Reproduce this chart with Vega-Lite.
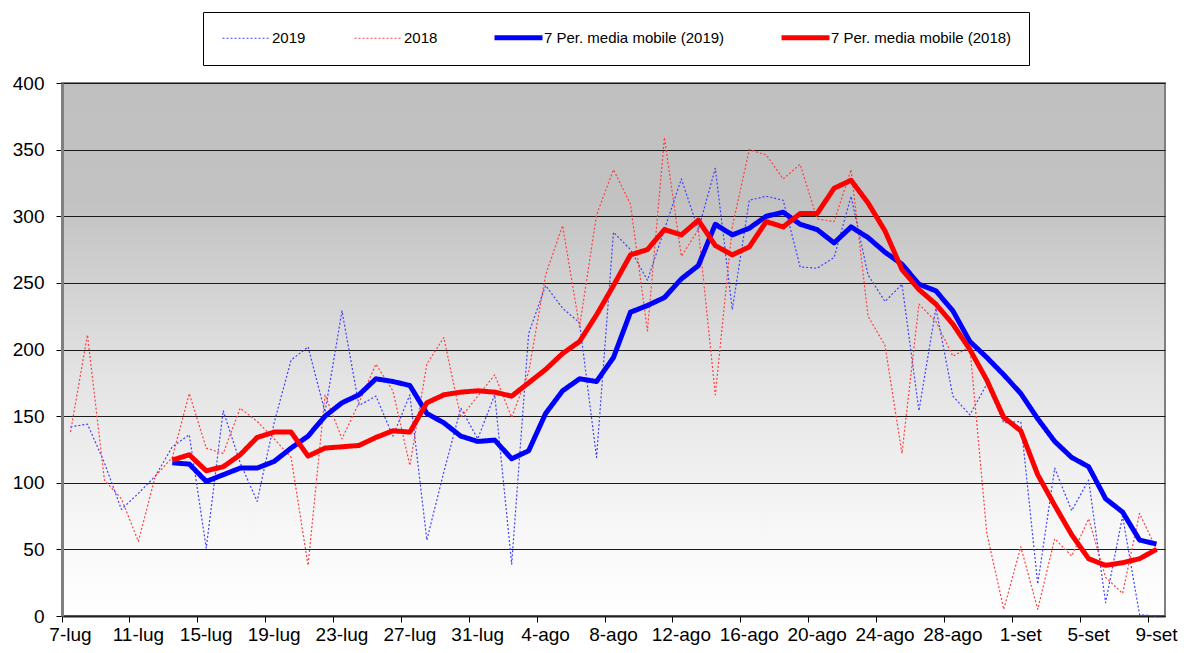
{
  "$schema": "https://vega.github.io/schema/vega-lite/v6.json",
  "width": 1103,
  "height": 533,
  "autosize": {"type": "none"},
  "padding": {"left": 62, "top": 83, "right": 19, "bottom": 37},
  "background": "#ffffff",
  "config": {
    "font": "Liberation Sans",
    "view": {
      "stroke": "#808080",
      "strokeWidth": 2,
      "fill": {
        "gradient": "linear", "x1": 0, "y1": 0, "x2": 0, "y2": 1,
        "stops": [
          {"offset": 0, "color": "#c0c0c0"},
          {"offset": 0.22, "color": "#c2c2c2"},
          {"offset": 0.4, "color": "#d4d4d4"},
          {"offset": 0.55, "color": "#e3e3e3"},
          {"offset": 0.7, "color": "#eeeeee"},
          {"offset": 0.85, "color": "#f8f8f8"},
          {"offset": 1, "color": "#ffffff"}
        ]
      }
    },
    "legend": {
      "orient": "none",
      "legendX": 141,
      "legendY": -71,
      "direction": "horizontal",
      "columns": 4,
      "columnPadding": 46,
      "symbolType": "M-4,0H4",
      "symbolSize": 144,
      "symbolOffset": 18,
      "labelOffset": 17,
      "labelLimit": 400,
      "labelFontSize": 15,
      "labelColor": "#000000",
      "padding": 17,
      "strokeColor": "#000000",
      "fillColor": "#ffffff"
    }
  },
  "data": {
    "values": [
      {"d": "7-lug", "s": "2019", "v": 142}, {"d": "8-lug", "s": "2019", "v": 144}, {"d": "9-lug", "s": "2019", "v": 115}, {"d": "10-lug", "s": "2019", "v": 80}, {"d": "11-lug", "s": "2019", "v": 92}, {"d": "12-lug", "s": "2019", "v": 105}, {"d": "13-lug", "s": "2019", "v": 127}, {"d": "14-lug", "s": "2019", "v": 136}, {"d": "15-lug", "s": "2019", "v": 51}, {"d": "16-lug", "s": "2019", "v": 154}, {"d": "17-lug", "s": "2019", "v": 115}, {"d": "18-lug", "s": "2019", "v": 86}, {"d": "19-lug", "s": "2019", "v": 145}, {"d": "20-lug", "s": "2019", "v": 192}, {"d": "21-lug", "s": "2019", "v": 202}, {"d": "22-lug", "s": "2019", "v": 153}, {"d": "23-lug", "s": "2019", "v": 229}, {"d": "24-lug", "s": "2019", "v": 158}, {"d": "25-lug", "s": "2019", "v": 165}, {"d": "26-lug", "s": "2019", "v": 135}, {"d": "27-lug", "s": "2019", "v": 166}, {"d": "28-lug", "s": "2019", "v": 57}, {"d": "29-lug", "s": "2019", "v": 108}, {"d": "30-lug", "s": "2019", "v": 156}, {"d": "31-lug", "s": "2019", "v": 133},
      {"d": "1-ago", "s": "2019", "v": 166}, {"d": "2-ago", "s": "2019", "v": 39}, {"d": "3-ago", "s": "2019", "v": 212}, {"d": "4-ago", "s": "2019", "v": 248}, {"d": "5-ago", "s": "2019", "v": 231}, {"d": "6-ago", "s": "2019", "v": 220}, {"d": "7-ago", "s": "2019", "v": 119}, {"d": "8-ago", "s": "2019", "v": 288}, {"d": "9-ago", "s": "2019", "v": 275}, {"d": "10-ago", "s": "2019", "v": 252}, {"d": "11-ago", "s": "2019", "v": 290}, {"d": "12-ago", "s": "2019", "v": 328}, {"d": "13-ago", "s": "2019", "v": 290}, {"d": "14-ago", "s": "2019", "v": 336}, {"d": "15-ago", "s": "2019", "v": 230}, {"d": "16-ago", "s": "2019", "v": 312}, {"d": "17-ago", "s": "2019", "v": 315}, {"d": "18-ago", "s": "2019", "v": 312}, {"d": "19-ago", "s": "2019", "v": 262}, {"d": "20-ago", "s": "2019", "v": 261}, {"d": "21-ago", "s": "2019", "v": 269}, {"d": "22-ago", "s": "2019", "v": 315}, {"d": "23-ago", "s": "2019", "v": 256}, {"d": "24-ago", "s": "2019", "v": 236}, {"d": "25-ago", "s": "2019", "v": 249}, {"d": "26-ago", "s": "2019", "v": 154}, {"d": "27-ago", "s": "2019", "v": 231}, {"d": "28-ago", "s": "2019", "v": 165}, {"d": "29-ago", "s": "2019", "v": 151}, {"d": "30-ago", "s": "2019", "v": 174}, {"d": "31-ago", "s": "2019", "v": 145},
      {"d": "1-set", "s": "2019", "v": 146}, {"d": "2-set", "s": "2019", "v": 24}, {"d": "3-set", "s": "2019", "v": 111}, {"d": "4-set", "s": "2019", "v": 79}, {"d": "5-set", "s": "2019", "v": 102}, {"d": "6-set", "s": "2019", "v": 10}, {"d": "7-set", "s": "2019", "v": 75}, {"d": "8-set", "s": "2019", "v": 1}, {"d": "9-set", "s": "2019", "v": 0},

      {"d": "7-lug", "s": "2018", "v": 138}, {"d": "8-lug", "s": "2018", "v": 211}, {"d": "9-lug", "s": "2018", "v": 102}, {"d": "10-lug", "s": "2018", "v": 88}, {"d": "11-lug", "s": "2018", "v": 56}, {"d": "12-lug", "s": "2018", "v": 105}, {"d": "13-lug", "s": "2018", "v": 119}, {"d": "14-lug", "s": "2018", "v": 167}, {"d": "15-lug", "s": "2018", "v": 126}, {"d": "16-lug", "s": "2018", "v": 122}, {"d": "17-lug", "s": "2018", "v": 156}, {"d": "18-lug", "s": "2018", "v": 146}, {"d": "19-lug", "s": "2018", "v": 133}, {"d": "20-lug", "s": "2018", "v": 119}, {"d": "21-lug", "s": "2018", "v": 38}, {"d": "22-lug", "s": "2018", "v": 166}, {"d": "23-lug", "s": "2018", "v": 133}, {"d": "24-lug", "s": "2018", "v": 160}, {"d": "25-lug", "s": "2018", "v": 189}, {"d": "26-lug", "s": "2018", "v": 169}, {"d": "27-lug", "s": "2018", "v": 113}, {"d": "28-lug", "s": "2018", "v": 189}, {"d": "29-lug", "s": "2018", "v": 209}, {"d": "30-lug", "s": "2018", "v": 149}, {"d": "31-lug", "s": "2018", "v": 165},
      {"d": "1-ago", "s": "2018", "v": 181}, {"d": "2-ago", "s": "2018", "v": 149}, {"d": "3-ago", "s": "2018", "v": 183}, {"d": "4-ago", "s": "2018", "v": 256}, {"d": "5-ago", "s": "2018", "v": 293}, {"d": "6-ago", "s": "2018", "v": 217}, {"d": "7-ago", "s": "2018", "v": 301}, {"d": "8-ago", "s": "2018", "v": 335}, {"d": "9-ago", "s": "2018", "v": 309}, {"d": "10-ago", "s": "2018", "v": 214}, {"d": "11-ago", "s": "2018", "v": 359}, {"d": "12-ago", "s": "2018", "v": 270}, {"d": "13-ago", "s": "2018", "v": 290}, {"d": "14-ago", "s": "2018", "v": 166}, {"d": "15-ago", "s": "2018", "v": 292}, {"d": "16-ago", "s": "2018", "v": 350}, {"d": "17-ago", "s": "2018", "v": 346}, {"d": "18-ago", "s": "2018", "v": 328}, {"d": "19-ago", "s": "2018", "v": 339}, {"d": "20-ago", "s": "2018", "v": 298}, {"d": "21-ago", "s": "2018", "v": 296}, {"d": "22-ago", "s": "2018", "v": 335}, {"d": "23-ago", "s": "2018", "v": 225}, {"d": "24-ago", "s": "2018", "v": 203}, {"d": "25-ago", "s": "2018", "v": 122}, {"d": "26-ago", "s": "2018", "v": 234}, {"d": "27-ago", "s": "2018", "v": 221}, {"d": "28-ago", "s": "2018", "v": 195}, {"d": "29-ago", "s": "2018", "v": 202}, {"d": "30-ago", "s": "2018", "v": 62}, {"d": "31-ago", "s": "2018", "v": 5},
      {"d": "1-set", "s": "2018", "v": 52}, {"d": "2-set", "s": "2018", "v": 5}, {"d": "3-set", "s": "2018", "v": 58}, {"d": "4-set", "s": "2018", "v": 45}, {"d": "5-set", "s": "2018", "v": 73}, {"d": "6-set", "s": "2018", "v": 29}, {"d": "7-set", "s": "2018", "v": 17}, {"d": "8-set", "s": "2018", "v": 77}, {"d": "9-set", "s": "2018", "v": 50},

      {"d": "13-lug", "s": "7 Per. media mobile (2019)", "v": 115}, {"d": "14-lug", "s": "7 Per. media mobile (2019)", "v": 114}, {"d": "15-lug", "s": "7 Per. media mobile (2019)", "v": 101}, {"d": "16-lug", "s": "7 Per. media mobile (2019)", "v": 106}, {"d": "17-lug", "s": "7 Per. media mobile (2019)", "v": 111}, {"d": "18-lug", "s": "7 Per. media mobile (2019)", "v": 111}, {"d": "19-lug", "s": "7 Per. media mobile (2019)", "v": 116}, {"d": "20-lug", "s": "7 Per. media mobile (2019)", "v": 126}, {"d": "21-lug", "s": "7 Per. media mobile (2019)", "v": 135}, {"d": "22-lug", "s": "7 Per. media mobile (2019)", "v": 150}, {"d": "23-lug", "s": "7 Per. media mobile (2019)", "v": 160}, {"d": "24-lug", "s": "7 Per. media mobile (2019)", "v": 166}, {"d": "25-lug", "s": "7 Per. media mobile (2019)", "v": 178}, {"d": "26-lug", "s": "7 Per. media mobile (2019)", "v": 176}, {"d": "27-lug", "s": "7 Per. media mobile (2019)", "v": 173}, {"d": "28-lug", "s": "7 Per. media mobile (2019)", "v": 152}, {"d": "29-lug", "s": "7 Per. media mobile (2019)", "v": 145}, {"d": "30-lug", "s": "7 Per. media mobile (2019)", "v": 135}, {"d": "31-lug", "s": "7 Per. media mobile (2019)", "v": 131},
      {"d": "1-ago", "s": "7 Per. media mobile (2019)", "v": 132}, {"d": "2-ago", "s": "7 Per. media mobile (2019)", "v": 118}, {"d": "3-ago", "s": "7 Per. media mobile (2019)", "v": 124}, {"d": "4-ago", "s": "7 Per. media mobile (2019)", "v": 152}, {"d": "5-ago", "s": "7 Per. media mobile (2019)", "v": 169}, {"d": "6-ago", "s": "7 Per. media mobile (2019)", "v": 178}, {"d": "7-ago", "s": "7 Per. media mobile (2019)", "v": 176}, {"d": "8-ago", "s": "7 Per. media mobile (2019)", "v": 194}, {"d": "9-ago", "s": "7 Per. media mobile (2019)", "v": 228}, {"d": "10-ago", "s": "7 Per. media mobile (2019)", "v": 233}, {"d": "11-ago", "s": "7 Per. media mobile (2019)", "v": 239}, {"d": "12-ago", "s": "7 Per. media mobile (2019)", "v": 253}, {"d": "13-ago", "s": "7 Per. media mobile (2019)", "v": 263}, {"d": "14-ago", "s": "7 Per. media mobile (2019)", "v": 294}, {"d": "15-ago", "s": "7 Per. media mobile (2019)", "v": 286}, {"d": "16-ago", "s": "7 Per. media mobile (2019)", "v": 291}, {"d": "17-ago", "s": "7 Per. media mobile (2019)", "v": 300}, {"d": "18-ago", "s": "7 Per. media mobile (2019)", "v": 303}, {"d": "19-ago", "s": "7 Per. media mobile (2019)", "v": 294}, {"d": "20-ago", "s": "7 Per. media mobile (2019)", "v": 290}, {"d": "21-ago", "s": "7 Per. media mobile (2019)", "v": 280}, {"d": "22-ago", "s": "7 Per. media mobile (2019)", "v": 292}, {"d": "23-ago", "s": "7 Per. media mobile (2019)", "v": 284}, {"d": "24-ago", "s": "7 Per. media mobile (2019)", "v": 273}, {"d": "25-ago", "s": "7 Per. media mobile (2019)", "v": 264}, {"d": "26-ago", "s": "7 Per. media mobile (2019)", "v": 249}, {"d": "27-ago", "s": "7 Per. media mobile (2019)", "v": 244}, {"d": "28-ago", "s": "7 Per. media mobile (2019)", "v": 229}, {"d": "29-ago", "s": "7 Per. media mobile (2019)", "v": 206}, {"d": "30-ago", "s": "7 Per. media mobile (2019)", "v": 194}, {"d": "31-ago", "s": "7 Per. media mobile (2019)", "v": 181},
      {"d": "1-set", "s": "7 Per. media mobile (2019)", "v": 167}, {"d": "2-set", "s": "7 Per. media mobile (2019)", "v": 148}, {"d": "3-set", "s": "7 Per. media mobile (2019)", "v": 131}, {"d": "4-set", "s": "7 Per. media mobile (2019)", "v": 119}, {"d": "5-set", "s": "7 Per. media mobile (2019)", "v": 112}, {"d": "6-set", "s": "7 Per. media mobile (2019)", "v": 88}, {"d": "7-set", "s": "7 Per. media mobile (2019)", "v": 78}, {"d": "8-set", "s": "7 Per. media mobile (2019)", "v": 57}, {"d": "9-set", "s": "7 Per. media mobile (2019)", "v": 54},

      {"d": "13-lug", "s": "7 Per. media mobile (2018)", "v": 117}, {"d": "14-lug", "s": "7 Per. media mobile (2018)", "v": 121}, {"d": "15-lug", "s": "7 Per. media mobile (2018)", "v": 109}, {"d": "16-lug", "s": "7 Per. media mobile (2018)", "v": 112}, {"d": "17-lug", "s": "7 Per. media mobile (2018)", "v": 121}, {"d": "18-lug", "s": "7 Per. media mobile (2018)", "v": 134}, {"d": "19-lug", "s": "7 Per. media mobile (2018)", "v": 138}, {"d": "20-lug", "s": "7 Per. media mobile (2018)", "v": 138}, {"d": "21-lug", "s": "7 Per. media mobile (2018)", "v": 120}, {"d": "22-lug", "s": "7 Per. media mobile (2018)", "v": 126}, {"d": "23-lug", "s": "7 Per. media mobile (2018)", "v": 127}, {"d": "24-lug", "s": "7 Per. media mobile (2018)", "v": 128}, {"d": "25-lug", "s": "7 Per. media mobile (2018)", "v": 134}, {"d": "26-lug", "s": "7 Per. media mobile (2018)", "v": 139}, {"d": "27-lug", "s": "7 Per. media mobile (2018)", "v": 138}, {"d": "28-lug", "s": "7 Per. media mobile (2018)", "v": 160}, {"d": "29-lug", "s": "7 Per. media mobile (2018)", "v": 166}, {"d": "30-lug", "s": "7 Per. media mobile (2018)", "v": 168}, {"d": "31-lug", "s": "7 Per. media mobile (2018)", "v": 169},
      {"d": "1-ago", "s": "7 Per. media mobile (2018)", "v": 168}, {"d": "2-ago", "s": "7 Per. media mobile (2018)", "v": 165}, {"d": "3-ago", "s": "7 Per. media mobile (2018)", "v": 175}, {"d": "4-ago", "s": "7 Per. media mobile (2018)", "v": 185}, {"d": "5-ago", "s": "7 Per. media mobile (2018)", "v": 197}, {"d": "6-ago", "s": "7 Per. media mobile (2018)", "v": 206}, {"d": "7-ago", "s": "7 Per. media mobile (2018)", "v": 226}, {"d": "8-ago", "s": "7 Per. media mobile (2018)", "v": 248}, {"d": "9-ago", "s": "7 Per. media mobile (2018)", "v": 271}, {"d": "10-ago", "s": "7 Per. media mobile (2018)", "v": 275}, {"d": "11-ago", "s": "7 Per. media mobile (2018)", "v": 290}, {"d": "12-ago", "s": "7 Per. media mobile (2018)", "v": 286}, {"d": "13-ago", "s": "7 Per. media mobile (2018)", "v": 297}, {"d": "14-ago", "s": "7 Per. media mobile (2018)", "v": 278}, {"d": "15-ago", "s": "7 Per. media mobile (2018)", "v": 271}, {"d": "16-ago", "s": "7 Per. media mobile (2018)", "v": 277}, {"d": "17-ago", "s": "7 Per. media mobile (2018)", "v": 296}, {"d": "18-ago", "s": "7 Per. media mobile (2018)", "v": 292}, {"d": "19-ago", "s": "7 Per. media mobile (2018)", "v": 302}, {"d": "20-ago", "s": "7 Per. media mobile (2018)", "v": 302}, {"d": "21-ago", "s": "7 Per. media mobile (2018)", "v": 321}, {"d": "22-ago", "s": "7 Per. media mobile (2018)", "v": 327}, {"d": "23-ago", "s": "7 Per. media mobile (2018)", "v": 310}, {"d": "24-ago", "s": "7 Per. media mobile (2018)", "v": 289}, {"d": "25-ago", "s": "7 Per. media mobile (2018)", "v": 260}, {"d": "26-ago", "s": "7 Per. media mobile (2018)", "v": 245}, {"d": "27-ago", "s": "7 Per. media mobile (2018)", "v": 234}, {"d": "28-ago", "s": "7 Per. media mobile (2018)", "v": 219}, {"d": "29-ago", "s": "7 Per. media mobile (2018)", "v": 200}, {"d": "30-ago", "s": "7 Per. media mobile (2018)", "v": 177}, {"d": "31-ago", "s": "7 Per. media mobile (2018)", "v": 149},
      {"d": "1-set", "s": "7 Per. media mobile (2018)", "v": 139}, {"d": "2-set", "s": "7 Per. media mobile (2018)", "v": 106}, {"d": "3-set", "s": "7 Per. media mobile (2018)", "v": 83}, {"d": "4-set", "s": "7 Per. media mobile (2018)", "v": 61}, {"d": "5-set", "s": "7 Per. media mobile (2018)", "v": 43}, {"d": "6-set", "s": "7 Per. media mobile (2018)", "v": 38}, {"d": "7-set", "s": "7 Per. media mobile (2018)", "v": 40}, {"d": "8-set", "s": "7 Per. media mobile (2018)", "v": 43}, {"d": "9-set", "s": "7 Per. media mobile (2018)", "v": 50}
    ]
  },
  "mark": {"type": "line", "strokeJoin": "round"},
  "encoding": {
    "x": {
      "field": "d",
      "type": "ordinal",
      "title": null,
      "sort": ["7-lug","8-lug","9-lug","10-lug","11-lug","12-lug","13-lug","14-lug","15-lug","16-lug","17-lug","18-lug","19-lug","20-lug","21-lug","22-lug","23-lug","24-lug","25-lug","26-lug","27-lug","28-lug","29-lug","30-lug","31-lug","1-ago","2-ago","3-ago","4-ago","5-ago","6-ago","7-ago","8-ago","9-ago","10-ago","11-ago","12-ago","13-ago","14-ago","15-ago","16-ago","17-ago","18-ago","19-ago","20-ago","21-ago","22-ago","23-ago","24-ago","25-ago","26-ago","27-ago","28-ago","29-ago","30-ago","31-ago","1-set","2-set","3-set","4-set","5-set","6-set","7-set","8-set","9-set"],
      "scale": {"type": "band", "paddingInner": 0, "paddingOuter": 0},
      "axis": {
        "values": ["7-lug","11-lug","15-lug","19-lug","23-lug","27-lug","31-lug","4-ago","8-ago","12-ago","16-ago","20-ago","24-ago","28-ago","1-set","5-set","9-set"],
        "bandPosition": 0,
        "labelAngle": 0,
        "labelFontSize": 19,
        "labelColor": "#000000",
        "labelPadding": 3,
        "tickSize": 6,
        "tickColor": "#000000",
        "domainColor": "#202020",
        "domainWidth": 2,
        "grid": false
      }
    },
    "y": {
      "field": "v",
      "type": "quantitative",
      "title": null,
      "scale": {"domain": [0, 400], "nice": false},
      "axis": {
        "values": [0, 50, 100, 150, 200, 250, 300, 350, 400],
        "labelFontSize": 19,
        "labelColor": "#000000",
        "labelPadding": 12,
        "tickSize": 6,
        "tickColor": "#000000",
        "domainColor": "#808080",
        "domainWidth": 3,
        "grid": true,
        "gridColor": "#1a1a1a",
        "gridWidth": 1,
        "gridOpacity": 1
      }
    },
    "color": {
      "field": "s",
      "type": "nominal",
      "title": null,
      "scale": {
        "domain": ["2019", "2018", "7 Per. media mobile (2019)", "7 Per. media mobile (2018)"],
        "range": ["#4040ff", "#ff4040", "#0000ff", "#ff0000"]
      }
    },
    "strokeDash": {
      "field": "s",
      "type": "nominal",
      "title": null,
      "scale": {
        "domain": ["2019", "2018", "7 Per. media mobile (2019)", "7 Per. media mobile (2018)"],
        "range": [[2, 2], [2, 2], [1, 0], [1, 0]]
      }
    },
    "strokeWidth": {
      "field": "s",
      "type": "ordinal",
      "title": null,
      "scale": {
        "type": "ordinal",
        "domain": ["2019", "2018", "7 Per. media mobile (2019)", "7 Per. media mobile (2018)"],
        "range": [1.2, 1.2, 5, 5]
      }
    }
  }
}
